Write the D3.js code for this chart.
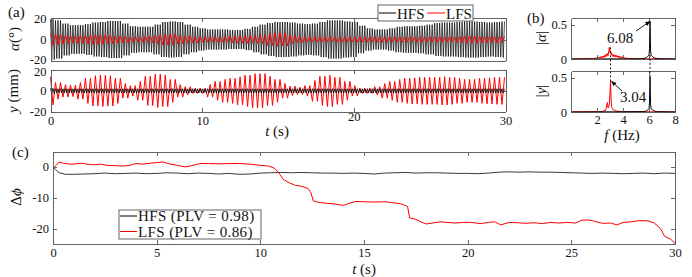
<!DOCTYPE html>
<meta charset="utf-8">
<style>
body { margin: 0; background: #fff; }
svg text { font-family: "Times New Roman", "Liberation Serif", serif; }
.axis path, .axis line { stroke: #555; stroke-width: 0.9; shape-rendering: crispEdges; }
.axis text { font-size: 12.5px; fill: #111; }
.lbl { font-size: 15px; fill: #111; }
</style>
<body>
<script src="https://d3js.org/d3.v7.min.js"></script>
<script>
// dominant frequencies read from the annotations (Hz)
var fHfs = 6.08, fLfs = 3.04;

// oscillation envelopes, one value every 0.5 s from t = 0 to 30 s
var envStep = 0.5;
var alphaHfsEnv = [19,18,15,13.5,13.5,14.5,16,16.5,17.5,17.5,15,12.5,12,12,14,16.5,17,16.5,14,12,10.5,9.5,9.5,9.5,9,9,10,12,14,15.5,16.5,16.5,16,15,14.5,15,16.5,18,18,17,16.5,13,10.5,9.5,9.5,10.5,12,12.5,12.5,13,14,15.5,16,16,16.5,17,17,16.5,16,16.5,17];
var alphaLfsEnv = [5.5,5,4,3.5,3.5,4,4.5,4.5,4,3.5,3,2.5,2.5,3,4,5,5,4,3.5,3,2.5,2.5,2.5,2.5,3,3.5,3.5,3.5,4,5.5,6.5,6,4,3,2.5,2.5,2.5,2.5,2.5,2.5,2.5,2.5,2.5,2.5,2.5,2.5,2.5,2.5,2.5,2.5,2.5,2.5,2.5,2.5,3,3.5,3.5,3,3,3,3];
var yLfsEnv = [13.5,8,6,5.5,8,12,14.5,15,14.5,12,7,5,9,14,16,15,11,6,4,2.5,2.5,6,9,11,12,13.5,15,16.5,16.5,14,11,7,4.5,3.5,5,10,14,15,13,9,5,2.5,2.5,4,7,9,11,12,12.5,13,13,13,13.5,13,12,11,11,12,12.5,13,13];
var yHfsEnv = [2.5,2,2,2,2,2,2,2,2,2,2,2,2,2,2,2,2,2,2,2,2,2,2,2,2,2,2,2,2,2,2,2,2,2,2,2,2,2,2,2,2,2,2,2,2,2,2,2,2,2,2,2,2,2,2,2,2,2,2,2,2];

// spectra [f (Hz), amplitude]
var specAlphaLfs = [[0,0.002],[1.2,0.003],[1.5,0.005],[1.6,0.01],[1.65,0.004],[1.7,0.012],[1.75,0.005],[1.8,0.015],[1.85,0.006],[1.9,0.018],[1.95,0.008],[2.0,0.02],[2.05,0.01],[2.1,0.025],[2.15,0.012],[2.2,0.03],[2.25,0.015],[2.3,0.035],[2.35,0.018],[2.4,0.04],[2.45,0.02],[2.5,0.045],[2.55,0.025],[2.6,0.055],[2.65,0.03],[2.7,0.07],[2.75,0.04],[2.8,0.08],[2.85,0.05],[2.9,0.11],[2.95,0.17],[3.0,0.09],[3.05,0.12],[3.1,0.06],[3.15,0.08],[3.2,0.04],[3.25,0.065],[3.3,0.035],[3.35,0.06],[3.4,0.03],[3.45,0.055],[3.5,0.03],[3.55,0.05],[3.6,0.025],[3.65,0.045],[3.7,0.02],[3.75,0.04],[3.8,0.02],[3.85,0.035],[3.9,0.015],[3.95,0.03],[4.0,0.012],[4.05,0.025],[4.1,0.01],[4.15,0.02],[4.2,0.008],[4.3,0.012],[4.4,0.006],[4.6,0.005],[5,0.003],[8,0.002]];
var specAlphaHfs = [[0,0],[5.4,0.003],[5.6,0.008],[5.7,0.012],[5.8,0.02],[5.85,0.03],[5.9,0.04],[5.95,0.05],[6.0,0.06],[6.04,0.15],[6.08,0.55],[6.12,0.12],[6.16,0.06],[6.2,0.05],[6.25,0.04],[6.3,0.03],[6.4,0.015],[6.6,0.008],[6.8,0.004],[8,0]];
var specYLfs = [[0,0.002],[2.4,0.005],[2.55,0.015],[2.6,0.03],[2.65,0.02],[2.7,0.05],[2.75,0.1],[2.8,0.14],[2.85,0.06],[2.9,0.08],[2.95,0.12],[3.0,0.3],[3.04,0.45],[3.08,0.2],[3.12,0.08],[3.16,0.06],[3.2,0.05],[3.25,0.03],[3.3,0.035],[3.4,0.02],[3.5,0.015],[3.6,0.01],[4,0.004],[8,0.002]];
var specYHfs = [[0,0],[5.6,0.005],[5.7,0.01],[5.8,0.018],[5.9,0.03],[5.95,0.04],[6.0,0.05],[6.04,0.15],[6.08,0.52],[6.12,0.12],[6.16,0.05],[6.25,0.035],[6.3,0.03],[6.4,0.015],[6.6,0.005],[8,0]];

// phase difference [t (s), delta phi]
var dphiHfs = [[0,0],[0.15,-1.0],[0.3,-1.9],[0.6,-2.4],[1,-2.4],[1.5,-2.3],[2,-2.2],[2.5,-2.0],[3,-2.2],[3.5,-2.1],[4,-2.0],[4.5,-2.2],[5,-2.1],[5.5,-1.9],[6,-2.0],[6.5,-2.2],[7,-2.0],[7.5,-2.1],[8,-2.3],[8.5,-2.1],[9,-2.4],[9.5,-2.3],[10,-2.0],[10.5,-1.9],[11,-1.8],[11.5,-1.9],[12,-1.8],[12.5,-1.9],[13,-2.0],[13.5,-2.0],[14,-2.1],[14.5,-2.0],[15,-2.1],[15.5,-2.3],[16,-2.0],[16.5,-1.9],[17,-1.8],[17.5,-2.0],[18,-1.9],[18.5,-1.9],[19,-2.0],[19.5,-2.1],[20,-2.1],[20.5,-2.2],[21,-2.0],[21.5,-1.7],[22,-1.6],[22.5,-1.7],[23,-1.6],[23.5,-1.7],[24,-1.7],[24.5,-1.8],[25,-1.9],[25.5,-2.0],[26,-2.1],[26.5,-2.0],[27,-2.1],[27.5,-2.2],[28,-2.1],[28.5,-2.0],[29,-2.2],[29.5,-2.0],[30,-2.1]];
var dphiLfs = [[0,-0.5],[0.15,0.5],[0.3,1.6],[0.5,1.2],[0.8,0.9],[1.1,1.0],[1.4,1.2],[1.7,0.8],[2.0,0.7],[2.3,0.9],[2.6,0.5],[3.0,0.4],[3.4,0.3],[3.7,0.5],[4.0,1.1],[4.3,0.9],[4.7,1.2],[5.0,1.4],[5.3,1.6],[5.6,1.0],[6.0,0.5],[6.4,0.0],[6.7,0.4],[7.1,1.1],[7.5,1.1],[8.0,1.0],[8.5,1.1],[9.0,1.1],[9.5,0.9],[10.0,0.5],[10.4,0.3],[10.7,-0.5],[10.9,-2.0],[11.1,-4.0],[11.4,-5.2],[11.7,-6.0],[12.0,-6.3],[12.3,-7.0],[12.45,-8.5],[12.55,-11.0],[12.8,-11.5],[13.2,-11.8],[13.6,-12.0],[14.0,-12.5],[14.3,-11.8],[14.6,-11.2],[15.0,-11.3],[15.5,-11.4],[16.0,-11.3],[16.4,-11.6],[16.8,-12.0],[17.1,-12.8],[17.2,-16.5],[17.5,-17.0],[17.8,-18.0],[18.0,-18.5],[18.3,-18.2],[18.7,-17.8],[19.0,-18.0],[19.4,-18.2],[19.8,-18.0],[20.2,-18.0],[20.6,-18.4],[21.0,-18.0],[21.3,-17.8],[21.6,-18.8],[22.0,-18.0],[22.4,-18.1],[22.8,-18.3],[23.2,-18.1],[23.6,-18.4],[24.0,-18.0],[24.4,-18.2],[24.8,-18.0],[25.2,-18.2],[25.5,-17.3],[25.8,-17.2],[26.1,-17.6],[26.5,-18.3],[26.9,-18.2],[27.2,-18.8],[27.5,-18.0],[27.9,-17.8],[28.3,-17.4],[28.7,-17.5],[29.0,-18.2],[29.3,-20.0],[29.5,-22.5],[29.8,-23.5],[30,-24.8]];

var seriesNames = ["HFS", "LFS"];
var plv = ["0.98", "0.86"];
var colors = {HFS: "#000", LFS: "#ff0000"};

var svg = d3.select("body").append("svg").attr("width", 692).attr("height", 277);
svg.append("rect").attr("width", 692).attr("height", 277).attr("fill", "#fff");

// peaks of an oscillation whose amplitude follows the envelope
function oscillation(env, freq) {
    var pts = [], n = Math.floor(30 * 2 * freq);
    for (var k = 0; k <= n; k++) {
        var t = k / (2 * freq);
        var a = env[Math.min(env.length - 1, Math.round(t / envStep))];
        pts.push([t, (k % 2 ? -1 : 1) * a]);
    }
    return pts;
}

// boxed axes with inward ticks on all sides
function frame(x, y, xt, yt, xLabels, pad) {
    var g = svg.append("g");
    var x0 = x.range()[0], x1 = x.range()[1], y0 = y.range()[0], y1 = y.range()[1];
    g.append("g").attr("class", "axis").attr("transform", "translate(0," + y0 + ")")
        .call(d3.axisBottom(x).tickValues(xt).tickSize(-4).tickSizeOuter(0).tickPadding(pad || 4)
            .tickFormat(xLabels ? function(d) { return d; } : ""));
    g.append("g").attr("class", "axis").attr("transform", "translate(0," + y1 + ")")
        .call(d3.axisTop(x).tickValues(xt).tickSize(-4).tickSizeOuter(0).tickFormat(""));
    g.append("g").attr("class", "axis").attr("transform", "translate(" + x0 + ",0)")
        .call(d3.axisLeft(y).tickValues(yt).tickSize(-4).tickSizeOuter(0).tickPadding(4)
            .tickFormat(function(d) { return String(d); }));
    g.append("g").attr("class", "axis").attr("transform", "translate(" + x1 + ",0)")
        .call(d3.axisRight(y).tickValues(yt).tickSize(-4).tickSizeOuter(0).tickFormat(""));
    g.selectAll(".axis").attr("font-family", null).attr("font-size", null);
    return g;
}

function drawLine(data, x, y, color, w) {
    svg.append("path").datum(data)
        .attr("fill", "none").attr("stroke", color).attr("stroke-width", w || 1)
        .attr("d", d3.line().x(function(d) { return x(d[0]); }).y(function(d) { return y(d[1]); }));
}

function label(txt, xp, yp, rot, anchor) {
    var t = svg.append("text").attr("class", "lbl")
        .attr("transform", "translate(" + xp + "," + yp + ")" + (rot ? " rotate(" + rot + ")" : ""))
        .attr("text-anchor", anchor || "middle");
    txt.forEach(function(p) {
        t.append("tspan").text(p[0]).attr("font-style", p[1] ? "italic" : null);
    });
    return t;
}

// ---- panel (a) ----
var xa = d3.scaleLinear().domain([0, 30]).range([50.5, 505.5]);
var ya1 = d3.scaleLinear().domain([-20, 20]).range([60.7, 18.3]);
var ya2 = d3.scaleLinear().domain([-20, 20]).range([111.7, 70]);

drawLine(oscillation(alphaHfsEnv, fHfs), xa, ya1, colors.HFS, 0.7);
drawLine(oscillation(alphaLfsEnv, fLfs), xa, ya1, colors.LFS, 1);
drawLine(oscillation(yLfsEnv, fLfs), xa, ya2, colors.LFS, 1);
drawLine(oscillation(yHfsEnv, fHfs), xa, ya2, colors.HFS, 0.8);
var fa1 = frame(xa, ya1, [0, 10, 20, 30], [-20, 0, 20], false);
var fa2 = frame(xa, ya2, [0, 10, 20, 30], [-20, 0, 20], true);
// nudge the two stacked extreme labels apart a little
fa1.selectAll("text").filter(function(d) { return d === -20; }).attr("dy", "0.2em");
fa2.selectAll("text").filter(function(d) { return d === 20; }).attr("dy", "0.45em");

label([["(a)"]], 8, 17, 0, "start");
label([["α", true], ["(°)"]], 19, 39, -90);
label([["y", true], [" (mm)"]], 18, 91, -90);
label([["t", true], [" (s)"]], 277, 136);

// legend (a)
var lga = svg.append("g");
lga.append("rect").attr("x", 378).attr("y", 5).attr("width", 95).attr("height", 16)
    .attr("fill", "#fff").attr("stroke", "#555").attr("stroke-width", 0.9);
var lgaPos = [[379, 396, 397], [427, 445, 446]];
seriesNames.forEach(function(s, i) {
    lga.append("line").attr("x1", lgaPos[i][0]).attr("x2", lgaPos[i][1]).attr("y1", 13).attr("y2", 13)
        .attr("stroke", colors[s]).attr("stroke-width", 1);
    lga.append("text").attr("class", "lbl").attr("x", lgaPos[i][2]).attr("y", 18.5).text(s);
});

// ---- panel (b) ----
var xb = d3.scaleLinear().domain([0, 8]).range([571, 675]);
var yb1 = d3.scaleLinear().domain([0, 0.6]).range([59, 18]);
var yb2 = d3.scaleLinear().domain([0, 0.6]).range([112, 71]);

drawLine(specAlphaLfs, xb, yb1, colors.LFS, 1);
drawLine(specAlphaHfs, xb, yb1, colors.HFS, 1);
drawLine(specYLfs, xb, yb2, colors.LFS, 1);
drawLine(specYHfs, xb, yb2, colors.HFS, 1);
frame(xb, yb1, [2, 4, 6, 8], [0, 0.5], false);
frame(xb, yb2, [2, 4, 6, 8], [0, 0.5], true, 3);

// dashed guides linking the peaks
var peakLinks = [[fLfs, 0.17, 0.45], [fHfs, 0.06, 0.52]];
peakLinks.forEach(function(p) {
    svg.append("line").attr("x1", xb(p[0])).attr("x2", xb(p[0]))
        .attr("y1", yb1(p[1])).attr("y2", yb2(p[2]))
        .attr("stroke", "#000").attr("stroke-width", 0.9).attr("stroke-dasharray", "2,2");
});

svg.append("defs").append("marker").attr("id", "arr").attr("viewBox", "0 0 10 10")
    .attr("refX", 9).attr("refY", 5).attr("markerWidth", 6).attr("markerHeight", 6)
    .attr("orient", "auto")
    .append("path").attr("d", "M0,1 L10,5 L0,9 z").attr("fill", "#000");

// annotations pointing at the two peaks
svg.append("line").attr("x1", 636).attr("y1", 31).attr("x2", xb(fHfs)).attr("y2", yb1(0.55))
    .attr("stroke", "#000").attr("stroke-width", 0.9).attr("marker-end", "url(#arr)");
label([[fHfs.toFixed(2)]], 620, 43);
svg.append("line").attr("x1", 622).attr("y1", 91).attr("x2", xb(fLfs) + 1).attr("y2", yb2(0.45))
    .attr("stroke", "#000").attr("stroke-width", 0.9).attr("marker-end", "url(#arr)");
label([[fLfs.toFixed(2)]], 633, 102);

label([["(b)"]], 527, 23, 0, "start");
label([["|"], ["α", true], ["|"]], 546, 38, -90);
label([["|"], ["y", true], ["|"]], 546, 91, -90);
label([["f", true], [" (Hz)"]], 622, 139.5);

// ---- panel (c) ----
var xc = d3.scaleLinear().domain([0, 30]).range([53, 675]);
var yc = d3.scaleLinear().domain([-25, 5]).range([244, 151.5]);

drawLine(dphiHfs, xc, yc, "#222", 0.9);
drawLine(dphiLfs, xc, yc, colors.LFS, 1);
frame(xc, yc, [0, 5, 10, 15, 20, 25, 30], [-20, -10, 0], true, 4);

label([["(c)"]], 12, 157, 0, "start");
label([["Δ"], ["ϕ", true]], 21, 197, -90);
label([["t", true], [" (s)"]], 364, 273.5);

// legend (c)
var lgc = svg.append("g");
lgc.append("rect").attr("x", 119).attr("y", 210).attr("width", 142).attr("height", 29)
    .attr("fill", "#fff").attr("stroke", "#555").attr("stroke-width", 0.9);
seriesNames.forEach(function(s, i) {
    var yy = 216 + i * 15.5;
    lgc.append("line").attr("x1", 120).attr("x2", 137).attr("y1", yy).attr("y2", yy)
        .attr("stroke", colors[s]).attr("stroke-width", 1);
    lgc.append("text").attr("class", "lbl").attr("x", 138).attr("y", yy + 5)
        .style("letter-spacing", "0.4px")
        .text(s + " (PLV = " + plv[i] + ")");
});
</script>
</body>
